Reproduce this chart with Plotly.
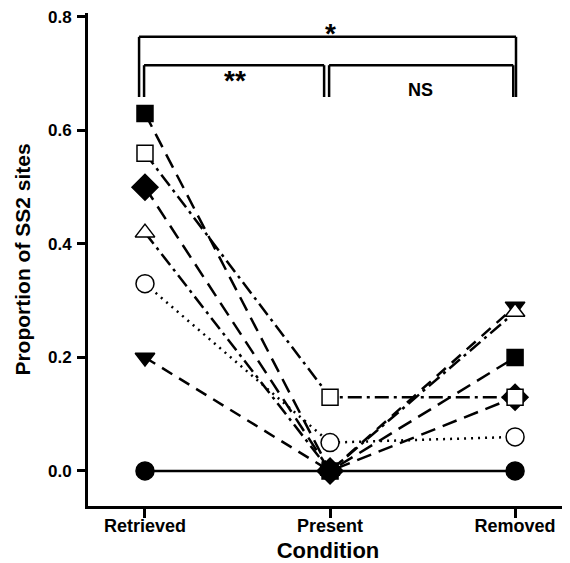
import plotly.graph_objects as go

conditions = ["Retrieved", "Present", "Removed"]

sq_filled = [0.63, 0.0, 0.20]
sq_open = [0.56, 0.13, 0.13]
diamond = [0.50, 0.0, 0.13]
tri_up = [0.42, 0.0, 0.28]
circ_open = [0.33, 0.05, 0.06]
tri_down = [0.20, 0.0, 0.29]
circ_filled = [0.0, 0.0, 0.0]

y_ticks = [0.0, 0.2, 0.4, 0.6, 0.8]
y_tick_labels = ["0.0", "0.2", "0.4", "0.6", "0.8"]

xpos = [0, 1, 2]

series = [
    (circ_filled, "circle", "black", 18, "solid"),
    (tri_down, "triangle-down", "black", 17, "12px,8px"),
    (circ_open, "circle", "white", 18, "2px,5px"),
    (tri_up, "triangle-up", "white", 17, "14px,5px,3px,5px"),
    (diamond, "diamond", "black", 20, "15px,8px"),
    (sq_open, "square", "white", 16, "14px,5px,3px,5px"),
    (sq_filled, "square", "black", 16, "15px,8px"),
]

fig = go.Figure()
for vals, sym, fill, size, dash in series:
    fig.add_trace(go.Scatter(
        x=xpos, y=vals, mode="lines+markers",
        line=dict(color="black", width=2.5, dash=dash),
        marker=dict(symbol=sym, size=size, color=fill,
                    line=dict(color="black", width=1.5)),
        showlegend=False, cliponaxis=False,
    ))

# significance brackets
bw = 2.5
def seg(x0, y0, x1, y1):
    fig.add_shape(type="line", x0=x0, y0=y0, x1=x1, y1=y1,
                  xref="x", yref="y", line=dict(color="black", width=bw))

# outer bracket
seg(-0.032, 0.765, 2.005, 0.765)
seg(-0.032, 0.765, -0.032, 0.659)
seg(2.005, 0.765, 2.005, 0.659)
# left inner
seg(-0.005, 0.715, 0.968, 0.715)
seg(-0.005, 0.715, -0.005, 0.659)
seg(0.968, 0.715, 0.968, 0.659)
# right inner
seg(0.995, 0.715, 1.99, 0.715)
seg(0.995, 0.715, 0.995, 0.659)
seg(1.99, 0.715, 1.99, 0.659)

fnt = dict(family="Liberation Sans, Arial, sans-serif", color="black", weight="bold")
fig.add_annotation(x=1.0, y=0.740, text="*", showarrow=False, yanchor="bottom",
                   font=dict(size=28, **fnt))
fig.add_annotation(x=0.485, y=0.657, text="**", showarrow=False, yanchor="bottom",
                   font=dict(size=28, **fnt))
fig.add_annotation(x=1.49, y=0.672, text="NS", showarrow=False, yanchor="middle",
                   font=dict(size=18, **fnt))

fig.update_layout(
    width=562, height=555,
    margin=dict(l=80, r=2, t=5, b=57, autoexpand=False),
    plot_bgcolor="white", paper_bgcolor="white",
    font=dict(size=17, **fnt),
    xaxis=dict(
        range=[-0.308, 2.286], tickvals=xpos, ticktext=conditions,
        showline=True, linecolor="black", linewidth=3,
        ticks="outside", ticklen=9, tickwidth=3, tickcolor="black",
        ticklabelstandoff=-8,
        showgrid=False, zeroline=False, automargin=False,
        title=dict(text="Condition", font=dict(size=22, **fnt), standoff=13),
        tickfont=dict(size=18, **fnt),
    ),
    yaxis=dict(
        range=[-0.0617, 0.807], tickvals=y_ticks, ticktext=y_tick_labels,
        showline=True, linecolor="black", linewidth=3,
        ticks="outside", ticklen=8, tickwidth=3, tickcolor="black",
        ticklabelstandoff=2, ticklabeloverflow="allow",
        showgrid=False, zeroline=False, automargin=False,
        title=dict(text="Proportion of SS2 sites", font=dict(size=21, **fnt), standoff=12),
        tickfont=dict(size=17, **fnt),
    ),
)

fig.write_html("out.html")
